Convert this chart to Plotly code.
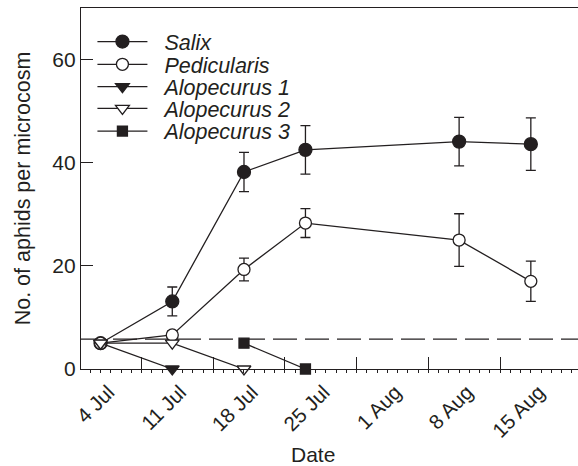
import plotly.graph_objects as go

# ---- data ----
salix_dates = ["2009-07-04", "2009-07-11", "2009-07-18", "2009-07-24", "2009-08-08", "2009-08-15"]
salix_vals = [5.0, 13.1, 38.2, 42.5, 44.1, 43.6]
salix_err = [0.0, 2.8, 3.8, 4.7, 4.7, 5.1]

pedic_dates = ["2009-07-04", "2009-07-11", "2009-07-18", "2009-07-24", "2009-08-08", "2009-08-15"]
pedic_vals = [5.0, 6.6, 19.3, 28.3, 25.0, 17.0]
pedic_err = [0.0, 0.8, 2.2, 2.8, 5.1, 3.9]

alo1_dates = ["2009-07-04", "2009-07-11"]
alo1_vals = [5.0, 0.0]

alo2_dates = ["2009-07-04", "2009-07-11", "2009-07-18"]
alo2_vals = [5.0, 5.0, 0.0]

alo3_dates = ["2009-07-18", "2009-07-24"]
alo3_vals = [5.0, 0.0]

threshold = 5.8

label_dates = ["2009-07-04", "2009-07-11", "2009-07-18", "2009-07-25", "2009-08-01", "2009-08-08", "2009-08-15"]
label_text = ["4 Jul", "11 Jul", "18 Jul", "25 Jul", "1 Aug", "8 Aug", "15 Aug"]
week_tick_dates = ["2009-07-08", "2009-07-15", "2009-07-22", "2009-07-29", "2009-08-05", "2009-08-12"]

x_range = ["2009-07-02 02:10", "2009-08-19 14:30"]
y_range = [0, 70]
y_ticks = [0, 20, 40, 60]

INK = "#231f20"
FONT = "Liberation Sans, Arial, sans-serif"
FS = 21

# legend row positions (paper fraction of plot height)
legend_rows = [0.907, 0.844, 0.782, 0.722, 0.659]
legend_x = 0.023

fig = go.Figure()

def add(name, x, y, symbol, fill, size, legend_id, err=None):
    kw = {}
    if err is not None:
        kw["error_y"] = dict(type="data", array=err, visible=True, color=INK,
                             thickness=1.3, width=5)
    fig.add_trace(go.Scatter(
        x=x, y=y, name="\u00a0\u00a0<i>" + name + "</i>", mode="lines+markers",
        line=dict(color=INK, width=1.3),
        marker=dict(symbol=symbol, size=size, color=fill,
                    line=dict(color=INK, width=1.3)),
        cliponaxis=False, legend=legend_id,
        **kw))

add("Salix", salix_dates, salix_vals, "circle", INK, 13, "legend", salix_err)
add("Pedicularis", pedic_dates, pedic_vals, "circle", "white", 12, "legend2", pedic_err)
add("Alopecurus 1", alo1_dates, alo1_vals, "triangle-down", INK, 12, "legend3")
add("Alopecurus 2", alo2_dates, alo2_vals, "triangle-down", "white", 12, "legend4")
add("Alopecurus 3", alo3_dates, alo3_vals, "square", INK, 10, "legend5")

# reference dashed line
fig.add_shape(type="line", xref="paper", x0=0, x1=1, yref="y", y0=threshold, y1=threshold,
              line=dict(color=INK, width=1.4, dash="24px,8px"), layer="below")

# hidden trace on xaxis2 to activate it
fig.add_trace(go.Scatter(x=[label_dates[0]], y=[None], xaxis="x2", yaxis="y",
                         showlegend=False, hoverinfo="skip"))

def leg(yv):
    return dict(x=legend_x, y=yv, xanchor="left", yanchor="middle",
                bgcolor="rgba(0,0,0,0)", borderwidth=0,
                font=dict(size=FS + 0.5, family=FONT, color=INK),
                itemwidth=50)

fig.update_layout(
    width=578, height=466,
    margin=dict(l=81, r=0, t=8, b=97),
    plot_bgcolor="white", paper_bgcolor="white",
    font=dict(family=FONT, size=FS, color=INK),
    showlegend=True,
    legend=leg(legend_rows[0]),
    legend2=leg(legend_rows[1]),
    legend3=leg(legend_rows[2]),
    legend4=leg(legend_rows[3]),
    legend5=leg(legend_rows[4]),
    xaxis=dict(
        type="date", range=x_range,
        tickmode="array", tickvals=label_dates, ticktext=label_text,
        tickangle=-45, ticks="", ticklen=0,
        ticklabelstandoff=2, ticklabelshift=8,
        showgrid=False, zeroline=False,
        showline=True, linecolor=INK, linewidth=1.3, mirror=True,
        tickfont=dict(size=FS - 0.5),
        minor=dict(ticks="outside", ticklen=3, tickcolor=INK, tickwidth=1,
                   dtick=86400000, tick0="2009-07-04", showgrid=False),
    ),
    xaxis2=dict(
        type="date", range=x_range, overlaying="x", anchor="y", side="bottom",
        tickmode="array", tickvals=week_tick_dates, showticklabels=False,
        ticks="inside", ticklen=12, tickcolor=INK, tickwidth=1.3,
        showgrid=False, zeroline=False, showline=False,
    ),
    yaxis=dict(
        range=y_range, tickvals=y_ticks, ticks="inside", ticklen=12,
        tickcolor=INK, tickwidth=1.3,
        showgrid=False, zeroline=False,
        showline=True, linecolor=INK, linewidth=1.3,
        tickfont=dict(size=FS),
        title=dict(text="No. of aphids per microcosm", font=dict(size=FS + 0.5), standoff=15),
    ),
    annotations=[dict(text="Date", xref="paper", yref="paper", x=(313 - 81) / 497,
                      y=-0.238, xanchor="center", yanchor="middle",
                      showarrow=False, font=dict(size=FS))],
)

fig.write_html("out.html", config={"displayModeBar": False},
               post_script="document.body.style.margin='0px';")
